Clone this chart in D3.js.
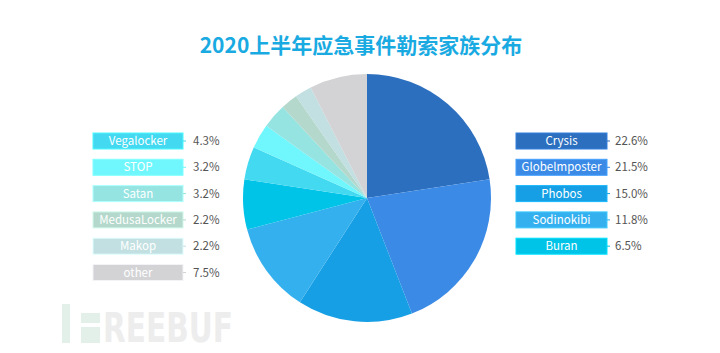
<!DOCTYPE html>
<html><head><meta charset="utf-8">
<script src="https://cdn.jsdelivr.net/npm/d3@7"></script>
<style>body{margin:0;background:#fff}svg{display:block;font-family:"Noto Sans CJK SC","Noto Sans",sans-serif}</style>
</head><body><svg id="c" width="720" height="353"></svg>
<script>
const title = "2020上半年应急事件勒索家族分布";
const names = ["Crysis","Globelmposter","Phobos","Sodinokibi","Buran","Vegalocker","STOP","Satan","MedusaLocker","Makop","other"];
const values = [22.6,21.5,15.0,11.8,6.5,4.3,3.2,3.2,2.2,2.2,7.5];
const colors = ["#2c6fbf","#3a8ae6","#169fe4","#35b0ef","#00c3e8","#42d9f1","#6ff7fd","#96e4e2","#b4d8cb","#c2dfe1","#d3d3d6"];
const rightItems = [0,1,2,3,4];
const leftItems = [5,6,7,8,9,10];

const svg = d3.select("#c");

// watermark
const wm = svg.append("g");
wm.append("rect").attr("x",62).attr("y",304).attr("width",8).attr("height",39).attr("fill","#e3f0ea");
wm.append("rect").attr("x",81).attr("y",313).attr("width",19).attr("height",10).attr("fill","#e3f0ea");
wm.append("rect").attr("x",81).attr("y",327).attr("width",19).attr("height",16).attr("fill","#e3f0ea");
wm.append("text").attr("x",103).attr("y",342).attr("font-family","DejaVu Sans").attr("font-weight","bold")
  .attr("font-size",40).attr("fill","#ededed").attr("textLength",130).attr("lengthAdjust","spacingAndGlyphs").text("REEBUF");

svg.append("text").attr("x",361).attr("y",53).attr("text-anchor","middle")
  .attr("font-size",21).attr("font-weight","bold").attr("fill","#1aaae2").text(title);

const cx = 367, cy = 198, r = 124;
const pie = d3.pie().sort(null).value(d=>d)(values);
const arc = d3.arc().innerRadius(0).outerRadius(r);
svg.append("g").attr("transform",`translate(${cx},${cy})`)
  .selectAll("path").data(pie).join("path")
  .attr("d",arc).attr("fill",(d,i)=>colors[i]);

const rowY = d3.scaleLinear().domain([0,1]).range([141,167.3]);

function legend(items, x0, w, valX){
  const g = svg.append("g");
  items.forEach((idx,k)=>{
    const y = rowY(k);
    g.append("rect").attr("x",x0).attr("y",y-8).attr("width",w).attr("height",16)
      .attr("fill",colors[idx]).attr("stroke",d3.color(colors[idx]).brighter(0.4)).attr("stroke-width",1);
    g.append("line").attr("x1",x0+w).attr("x2",x0+w+3).attr("y1",y).attr("y2",y)
      .attr("stroke",colors[idx]).attr("stroke-width",1);
    g.append("text").attr("x",x0+w/2).attr("y",y+4).attr("text-anchor","middle")
      .attr("font-size",11.5).attr("fill","#fff").text(names[idx]);
    g.append("text").attr("x",valX).attr("y",y+4).attr("font-size",11.5).attr("fill","#555")
      .text(values[idx].toFixed(1)+"%");
  });
}
legend(rightItems, 516, 91, 615);
legend(leftItems, 93, 90, 193);
</script></body></html>
